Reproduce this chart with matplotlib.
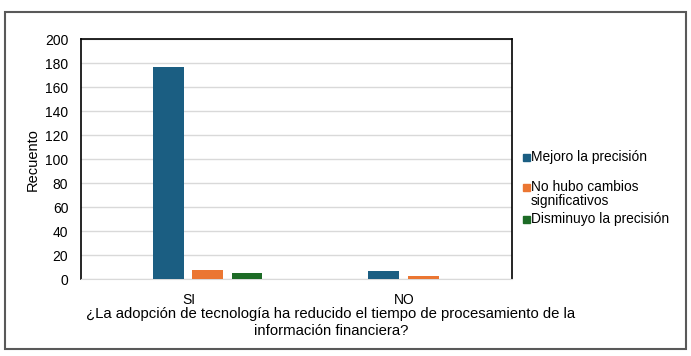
import matplotlib
matplotlib.use("Agg")
import matplotlib.pyplot as plt
from matplotlib.patches import Rectangle

plt.rcParams["font.family"] = ["Liberation Sans", "DejaVu Sans"]

categorias = ["SI", "NO"]
series = ["Mejoro la precisión", "No hubo cambios\nsignificativos", "Disminuyo la precisión"]
mejoro = [177, 7]
sin_cambios = [8, 3]
disminuyo = [5, 0]
colores = ["#1B5E82", "#EB7632", "#1D6B26"]
yticks = list(range(0, 201, 20))

fig = plt.figure(figsize=(6.91, 3.56), dpi=100)
ax = fig.add_axes([0.117, 0.216, 0.624, 0.674])

x = list(range(len(categorias)))
offsets = [-0.095, 0.088, 0.271]
for vals, off, col in zip([mejoro, sin_cambios, disminuyo], offsets, colores):
    ax.bar([xi + off for xi in x], vals, width=0.143, color=col, zorder=3)

ax.set_xlim(-0.5, 1.5)
ax.set_ylim(0, 200)
ax.set_yticks(yticks)
ax.set_xticks(x)
ax.set_xticklabels(categorias)
ax.tick_params(axis="both", length=0, labelsize=10, colors="black")
ax.tick_params(axis="y", pad=9)
ax.tick_params(axis="x", pad=10)
ax.grid(axis="y", color="#d9d9d9", linewidth=1, zorder=0)
for s in ["top", "left", "right"]:
    ax.spines[s].set_color("black")
    ax.spines[s].set_linewidth(1.2)
ax.spines["bottom"].set_color("#d9d9d9")
ax.set_ylabel("Recuento", fontsize=10.5)
ax.yaxis.set_label_coords(-0.095, 0.5)

fig.text(331 / 691, 1 - 322.5 / 356,
         "¿La adopción de tecnología ha reducido el tiempo de procesamiento de la\ninformación financiera?",
         ha="center", va="center", fontsize=10.7, linespacing=1.25)

# leyenda manual
ley_y = [157, 187, 219]
for lab, col, yy in zip(series, colores, ley_y):
    fig.patches.append(Rectangle((523 / 691, 1 - (yy + 3.5) / 356), 7 / 691, 7 / 356,
                                 transform=fig.transFigure, color=col))
    top = yy - 7 if "\n" in lab else yy
    fig.text(531 / 691, 1 - top / 356, lab, ha="left",
             va="top" if "\n" in lab else "center",
             fontsize=9.9, linespacing=1.0)

# borde exterior
fig.patches.append(Rectangle((5 / 691, 1 - 349 / 356), 681 / 691, 337 / 356,
                             transform=fig.transFigure, fill=False,
                             edgecolor="#595959", linewidth=1.5))

fig.savefig("out.png", dpi=100)
